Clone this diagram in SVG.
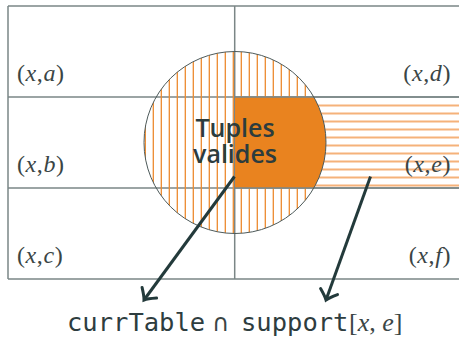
<svg xmlns="http://www.w3.org/2000/svg" width="459" height="338" viewBox="0 0 459 338">
<style>
.grid{stroke:#7b8686;stroke-width:1.5;fill:none}
.math{font-family:"Liberation Serif","DejaVu Serif",serif;font-size:24px;fill:#3a4545;letter-spacing:0.6px}
.math tspan{font-style:italic}
.mathr{font-family:"Liberation Serif","DejaVu Serif",serif;font-size:26px;fill:#3a4545}
.cap{font-family:"DejaVu Sans",sans-serif;font-size:24px;fill:#3a4545}
.mono{font-family:"DejaVu Sans Mono","Liberation Mono",monospace;font-size:25.5px;fill:#2e3d3f}
.big{font-family:"Open Sans","Noto Sans",sans-serif;font-size:25px;font-weight:600;fill:#2c3c3e;text-anchor:middle}
.arrow{stroke:#233a3b;stroke-width:3;fill:none;marker-end:url(#head)}
</style>
<defs>
<clipPath id="circ"><circle cx="235" cy="142.5" r="91"/></clipPath>
<marker id="head" markerUnits="userSpaceOnUse" viewBox="-14 -12 18 24" refX="0" refY="0" markerWidth="18" markerHeight="24" orient="auto">
<path d="M-9,-9 Q-3,-2 0,0 Q-3,2 -9,9" stroke="#233a3b" stroke-width="3" fill="none" stroke-linecap="round"/>
</marker>
</defs>
<g id="grid">
<path class="grid" d="M8,6 H459 M8,97 H459 M8,188 H459 M8,279 H459 M8,6 V279 M234.7,6 V279"/>
</g>
<g id="hatching">
<g clip-path="url(#circ)">
<path fill="none" stroke="#ec8a2e" stroke-width="1.3" d="M145.3,50 V236 M153.3,50 V236 M161.3,50 V236 M169.3,50 V236 M177.3,50 V236 M185.3,50 V236 M193.3,50 V236 M201.3,50 V236 M209.3,50 V236 M217.3,50 V236 M225.3,50 V236 M233.3,50 V236 M241.3,50 V236 M249.3,50 V236 M257.3,50 V236 M265.3,50 V236 M273.3,50 V236 M281.3,50 V236 M289.3,50 V236 M297.3,50 V236 M305.3,50 V236 M313.3,50 V236 M321.3,50 V236"/>
</g>
<path fill="none" stroke="#f5b27a" stroke-width="2" d="M235,105.5 H459 M235,113.5 H459 M235,121.5 H459 M235,129.5 H459 M235,137.5 H459 M235,145.5 H459 M235,153.5 H459 M235,161.5 H459 M235,169.5 H459 M235,177.5 H459 M235,185.5 H459"/>
<rect x="235" y="97" width="224" height="91" fill="#e9831f" clip-path="url(#circ)"/>
<path class="grid" d="M235,188 H459 M235,97 H459"/>
<circle cx="235" cy="142.5" r="91" fill="none" stroke="#4d5a5a" stroke-width="1"/>
</g>
<g id="labels">
<text class="math" x="17" y="81">(<tspan>x</tspan>,<tspan>a</tspan>)</text>
<text class="math" x="17" y="172">(<tspan>x</tspan>,<tspan>b</tspan>)</text>
<text class="math" x="17" y="263">(<tspan>x</tspan>,<tspan>c</tspan>)</text>
<text class="math" x="451" y="81" text-anchor="end">(<tspan>x</tspan>,<tspan>d</tspan>)</text>
<text class="math" x="451" y="172" text-anchor="end">(<tspan>x</tspan>,<tspan>e</tspan>)</text>
<text class="math" x="451" y="263" text-anchor="end">(<tspan>x</tspan>,<tspan>f</tspan>)</text>
</g>
<g id="node-tuples">
<text class="big" x="235" y="137">Tuples</text>
<text class="big" x="235" y="163">valides</text>
</g>
<g id="connectors">
<line class="arrow" x1="234.5" y1="176.5" x2="144" y2="300"/>
<line class="arrow" x1="370.5" y1="176.5" x2="326" y2="300"/>
</g>
<g id="node-formula">
<text class="mono" x="67" y="331">currTable</text>
<text class="cap" x="212" y="331">∩</text>
<text class="mono" x="241" y="331">support</text>
<text class="mathr" x="349" y="331">[<tspan font-style="italic">x</tspan>, <tspan font-style="italic">e</tspan>]</text>
</g>
</svg>
